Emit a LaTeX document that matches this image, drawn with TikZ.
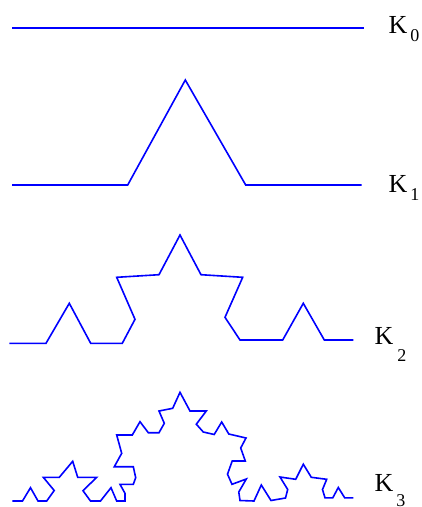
\documentclass[tikz,border=0pt]{standalone}
\usepackage{fontspec}
\setmainfont{Liberation Serif}
\begin{document}
\begin{tikzpicture}[x=1pt,y=-1pt,
  curve/.style={draw=blue,line width=1.6pt},
  lab/.style={anchor=base west,inner sep=0pt,font=\fontsize{26}{26}\selectfont}]
\useasboundingbox (0,0) rectangle (422,507);
% K0
\draw[curve] (12,27.7) -- (364,27.7);
% K1
\draw[curve] (12,185) -- (127.7,185) -- (185.3,80) -- (245.7,185) -- (361.7,185);
% K2
\draw[curve] (9.3,343.3) -- (46,343.3) -- (69.3,303.3) -- (90.7,343.3) -- (122.3,343.3)
  -- (135,319.3) -- (116.7,277.3) -- (159,274.7) -- (180,235) -- (201,274.7)
  -- (242.7,277.3) -- (225,317.3) -- (240,340) -- (282.7,340) -- (303.3,303.3)
  -- (324.3,340) -- (353.3,340);
% K3
\draw[curve] (12.3,501) -- (22.5,501) -- (30.5,487.7) -- (38,501) -- (46.7,501)
  -- (54.2,490.5) -- (43.3,477.3) -- (59.3,477.3) -- (72.7,461.3) -- (77.7,477.3)
  -- (96.7,477.3) -- (83,490.7) -- (90.5,501) -- (100.5,501) -- (111,487.7)
  -- (116.7,501) -- (125,501)
  -- (125,493.3) -- (120,484.3) -- (133.3,484.3) -- (135.7,477.7) -- (133.3,466.7)
  -- (114.3,466.7) -- (121.7,453.3) -- (116.7,435) -- (132.3,435) -- (140,421.7)
  -- (148.3,432.7) -- (159,432.7) -- (164.3,423.3) -- (159,411) -- (172.7,408.3)
  -- (180,392.3)
  -- (190,411) -- (206.3,411) -- (196.3,424.2) -- (203.3,432) -- (214.2,434.5)
  -- (221.7,422) -- (228.8,434) -- (246,438) -- (240.7,448) -- (245.3,461)
  -- (232.2,461) -- (227.5,474.2) -- (232,484.3) -- (246.3,479) -- (238.8,492)
  -- (240,500.5)
  -- (254,501) -- (261.3,485) -- (271,500.5) -- (285.5,498) -- (287.7,489.5)
  -- (280,477) -- (295.7,479.3) -- (303.3,464.2) -- (311.3,477.3) -- (326.7,479.3)
  -- (322.5,489.5) -- (325,497.8) -- (332.8,497.8) -- (338.3,487.5) -- (344.7,497.8)
  -- (353.3,497.8);
% labels
\node[lab] (k0) at (388.5,33) {K\hspace{3pt}\raisebox{-8.5pt}{\fontsize{18}{18}\selectfont 0}};
\node[lab] (k1) at (388.5,192) {K\hspace{3pt}\raisebox{-8.5pt}{\fontsize{18}{18}\selectfont 1}};
\node[lab] (k2) at (374.5,344) {K\hspace{4pt}\raisebox{-17pt}{\fontsize{18}{18}\selectfont 2}};
\node[lab] (k3) at (374.5,491.5) {K\hspace{3pt}\raisebox{-15pt}{\fontsize{18}{18}\selectfont 3}};
\end{tikzpicture}
\end{document}
